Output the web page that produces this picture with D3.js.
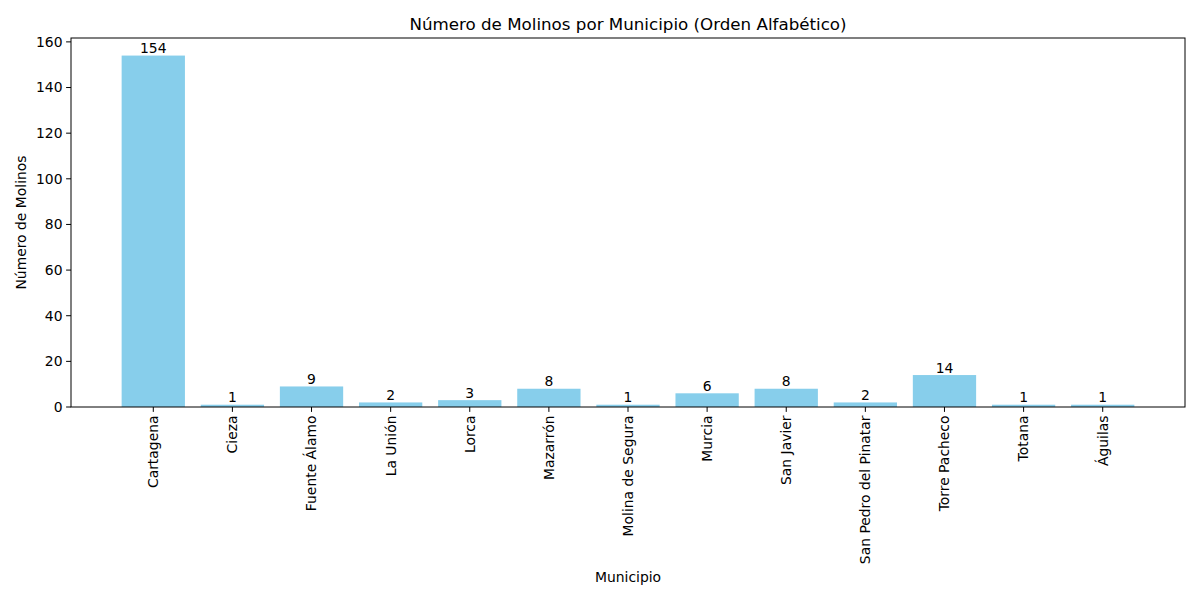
<!DOCTYPE html>
<html><head><meta charset="utf-8">
<script src="https://cdn.jsdelivr.net/npm/d3@7"></script>
<style>body{margin:0;background:#fff}text{font-family:"DejaVu Sans",sans-serif;fill:#000}</style>
</head><body><svg id="c" width="1200" height="600"></svg>
<script>
const categories = ["Cartagena","Cieza","Fuente Álamo","La Unión","Lorca","Mazarrón","Molina de Segura","Murcia","San Javier","San Pedro del Pinatar","Torre Pacheco","Totana","Águilas"];
const values = [154,1,9,2,3,8,1,6,8,2,14,1,1];
const yTicks = [0,20,40,60,80,100,120,140,160];

const svg = d3.select("#c");
const L=71,R=1185,T=38,B=407;
const FS="13.9px";
const x = d3.scaleLinear().domain([-1.04, categories.length-1+1.04]).range([L,R]);
const y = d3.scaleLinear().domain([0, 154*1.05]).range([B,T]);
const bw = x(0.8)-x(0);

svg.selectAll("rect.bar").data(values).join("rect").attr("class","bar")
  .attr("x",(d,i)=>x(i)-bw/2).attr("width",bw)
  .attr("y",d=>y(d)).attr("height",d=>B-y(d)).attr("fill","#87ceeb");

svg.selectAll("text.val").data(values).join("text").attr("class","val")
  .attr("x",(d,i)=>x(i)).attr("y",d=>y(d)-2.5).attr("text-anchor","middle")
  .attr("font-size",FS).text(d=>d);

svg.append("rect").attr("x",L).attr("y",T).attr("width",R-L).attr("height",B-T)
  .attr("fill","none").attr("stroke","#000").attr("stroke-width",1);

const ya = svg.append("g");
yTicks.forEach(t=>{
  ya.append("line").attr("x1",L-4.9).attr("x2",L).attr("y1",y(t)).attr("y2",y(t)).attr("stroke","#000");
  ya.append("text").attr("x",L-8.5).attr("y",y(t)).attr("dy","0.35em").attr("text-anchor","end")
    .attr("font-size",FS).text(t);
});
categories.forEach((c,i)=>{
  svg.append("line").attr("x1",x(i)).attr("x2",x(i)).attr("y1",B).attr("y2",B+4.9).attr("stroke","#000");
  svg.append("text").attr("transform",`translate(${x(i)},${B+8.5}) rotate(-90)`)
    .attr("text-anchor","end").attr("dy","0.35em").attr("font-size",FS).text(c);
});

svg.append("text").attr("x",(L+R)/2).attr("y",30).attr("text-anchor","middle").attr("font-size","16.7px")
  .text("Número de Molinos por Municipio (Orden Alfabético)");
svg.append("text").attr("x",(L+R)/2).attr("y",582).attr("text-anchor","middle").attr("font-size",FS).text("Municipio");
svg.append("text").attr("transform",`translate(26,${(T+B)/2}) rotate(-90)`).attr("text-anchor","middle")
  .attr("font-size",FS).text("Número de Molinos");
</script></body></html>
